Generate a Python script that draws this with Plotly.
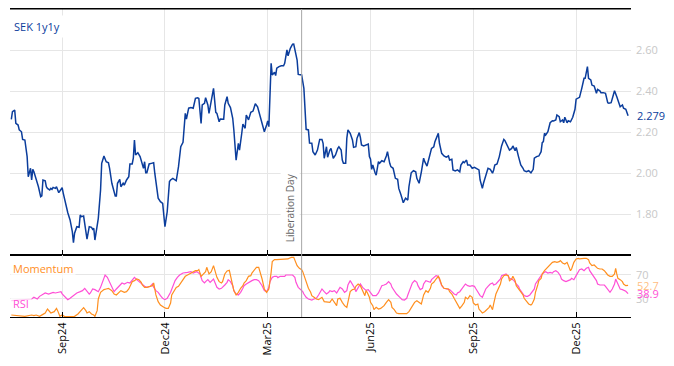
import pandas as pd
import plotly.graph_objects as go

# ---------------- data ----------------
start_date = "2024-07-19"

sek_days = [
    0, 1, 3, 4, 6, 7, 9, 10, 12, 13,
    14, 15, 17, 18, 19, 20, 22, 24, 26, 27,
    28, 30, 31, 32, 34, 35, 36, 37, 39, 40,
    42, 44, 45, 46, 48, 50, 52, 54, 55, 56,
    58, 60, 61, 62, 64, 66, 67, 69, 71, 72,
    73, 74, 76, 77, 79, 80, 82, 84, 86, 87,
    89, 90, 92, 93, 94, 96, 97, 99, 100, 102,
    104, 105, 107, 108, 109, 110, 112, 114, 116, 117,
    118, 119, 120, 122, 124, 126, 127, 129, 130, 132,
    134, 136, 138, 140, 141, 143, 145, 146, 148, 149,
    150, 152, 154, 155, 157, 159, 161, 163, 165, 166,
    168, 169, 171, 172, 174, 175, 177, 179, 181, 182,
    184, 185, 188, 189, 191, 192, 194, 196, 197, 199,
    201, 202, 204, 205, 207, 208, 210, 212, 214, 216,
    218, 220, 222, 224, 226, 227, 228, 230, 231, 233,
    234, 235, 237, 239, 241, 242, 244, 245, 247, 249,
    250, 251, 253, 254, 257, 259, 260, 261, 263, 264,
    266, 267, 269, 271, 273, 275, 276, 277, 279, 280,
    282, 283, 285, 287, 289, 290, 292, 293, 294, 296,
    297, 298, 300, 302, 303, 305, 306, 308, 309, 310,
    312, 314, 316, 317, 318, 319, 320, 322, 323, 325,
    326, 328, 330, 332, 333, 335, 336, 338, 340, 342,
    343, 345, 347, 349, 351, 352, 354, 356, 358, 359,
    361, 363, 365, 366, 368, 370, 372, 374, 375, 377,
    378, 379, 381, 383, 385, 387, 388, 390, 391, 393,
    395, 397, 398, 400, 401, 403, 404, 406, 408, 410,
    412, 414, 415, 417, 418, 420, 422, 424, 426, 427,
    428, 430, 432, 434, 436, 437, 439, 441, 443, 444,
    446, 447, 449, 451, 453, 454, 456, 458, 460, 462,
    463, 465, 467, 469, 470, 471, 472, 473, 475, 477,
    479, 480, 482, 483, 485, 486, 488, 489, 490, 492,
    493, 495, 497, 499, 500, 502, 503, 505, 507, 508,
    510, 511, 513, 514, 516, 518, 519, 521, 522, 524,
    526, 528, 529, 531, 532, 534, 536, 538, 539, 541,
    542, 544, 545, 546,
]
sek_values = [
    2.262, 2.299, 2.307, 2.242, 2.234, 2.210, 2.201, 2.164, 2.161, 2.128,
    2.080, 1.982, 2.023, 1.966, 2.018, 2.006, 1.974, 1.933, 1.884, 1.888,
    1.966, 1.962, 1.933, 1.925, 1.917, 1.925, 1.920, 1.930, 1.925, 1.933,
    1.904, 1.920, 1.928, 1.901, 1.844, 1.806, 1.771, 1.714, 1.660, 1.706,
    1.738, 1.735, 1.795, 1.787, 1.790, 1.722, 1.677, 1.738, 1.735, 1.725,
    1.730, 1.673, 1.738, 1.779, 1.917, 2.047, 2.083, 2.055, 2.050, 2.023,
    1.950, 1.933, 1.888, 1.888, 1.950, 1.969, 1.933, 1.950, 1.941, 1.966,
    1.982, 2.044, 2.044, 2.072, 2.161, 2.088, 2.099, 2.080, 2.039, 2.023,
    2.055, 2.001, 2.001, 2.044, 2.047, 2.050, 1.999, 1.917, 1.877, 1.860,
    1.852, 1.738, 1.811, 1.958, 1.966, 1.974, 1.966, 1.962, 2.031, 2.080,
    2.128, 2.150, 2.291, 2.263, 2.316, 2.319, 2.316, 2.364, 2.367, 2.364,
    2.242, 2.332, 2.340, 2.367, 2.332, 2.291, 2.364, 2.413, 2.296, 2.291,
    2.250, 2.263, 2.262, 2.332, 2.372, 2.340, 2.319, 2.267, 2.210, 2.063,
    2.145, 2.112, 2.194, 2.238, 2.218, 2.283, 2.259, 2.296, 2.302, 2.338,
    2.323, 2.283, 2.247, 2.201, 2.234, 2.254, 2.226, 2.535, 2.478, 2.491,
    2.475, 2.511, 2.519, 2.523, 2.523, 2.535, 2.600, 2.572, 2.608, 2.628,
    2.629, 2.600, 2.551, 2.481, 2.478, 2.413, 2.299, 2.213, 2.210, 2.146,
    2.145, 2.104, 2.088, 2.112, 2.164, 2.164, 2.145, 2.072, 2.128, 2.077,
    2.112, 2.120, 2.072, 2.088, 2.120, 2.128, 2.112, 2.063, 2.047, 2.047,
    2.169, 2.210, 2.194, 2.161, 2.125, 2.128, 2.169, 2.197, 2.174, 2.137,
    2.132, 2.137, 2.141, 2.080, 2.067, 2.018, 2.039, 2.001, 1.990, 2.055,
    2.047, 2.060, 2.055, 2.083, 2.104, 2.047, 2.031, 2.023, 1.974, 1.969,
    1.925, 1.893, 1.855, 1.877, 1.868, 1.933, 2.001, 2.011, 2.006, 1.974,
    1.950, 2.006, 2.072, 2.055, 2.034, 2.077, 2.120, 2.128, 2.153, 2.180,
    2.194, 2.145, 2.096, 2.083, 2.077, 2.083, 2.063, 2.067, 2.015, 2.010,
    2.015, 2.006, 2.039, 2.055, 2.050, 2.063, 2.039, 2.039, 2.023, 2.028,
    2.023, 2.015, 1.966, 1.925, 1.950, 1.990, 2.023, 2.018, 1.999, 2.015,
    2.039, 2.044, 2.080, 2.132, 2.164, 2.158, 2.137, 2.112, 2.120, 2.132,
    2.109, 2.125, 2.080, 2.039, 2.023, 2.011, 2.006, 2.011, 2.001, 2.018,
    2.072, 2.080, 2.083, 2.104, 2.148, 2.153, 2.194, 2.185, 2.201, 2.245,
    2.255, 2.254, 2.259, 2.283, 2.275, 2.250, 2.259, 2.245, 2.272, 2.245,
    2.255, 2.250, 2.272, 2.311, 2.360, 2.364, 2.369, 2.413, 2.462, 2.462,
    2.519, 2.462, 2.454, 2.429, 2.424, 2.389, 2.408, 2.401, 2.392, 2.392,
    2.389, 2.343, 2.340, 2.343, 2.360, 2.401, 2.372, 2.337, 2.323, 2.332,
    2.316, 2.311, 2.294, 2.279,
]

rsi_days = [
    0, 9, 18, 20, 23, 25, 28, 30, 33, 35,
    37, 39, 41, 44, 45, 47, 50, 52, 55, 58,
    61, 63, 65, 67, 69, 70, 72, 74, 77, 79,
    82, 83, 85, 87, 89, 91, 93, 96, 98, 100,
    103, 105, 107, 109, 111, 113, 116, 118, 120, 123,
    125, 126, 128, 130, 132, 134, 136, 138, 141, 143,
    145, 147, 149, 152, 154, 156, 159, 161, 164, 165,
    167, 169, 171, 172, 174, 176, 178, 179,
    182, 184, 186, 187, 189, 191, 192, 194, 196, 197,
    199, 201, 203, 205, 206, 208, 210, 212, 213, 215,
    217, 219, 220, 222, 224, 226, 228, 229, 231, 233,
    235, 236, 238, 240, 242, 243, 245, 247, 249, 251,
    252, 254, 256, 258, 259, 261, 263, 265, 266, 268,
    270, 272, 274, 275, 277, 279, 281, 282, 284, 286,
    288, 289, 291, 293, 295, 297, 298, 300, 302, 304,
    305, 307, 309, 311, 313, 314, 316, 318, 320, 321,
    323, 325, 327, 328, 330, 332, 334, 336, 337, 339,
    341, 344, 346, 348, 350, 351, 353, 355, 357, 359,
    360, 362,
    364, 365, 367, 369, 371, 372, 374, 376, 378, 379,
    381, 383, 385, 387, 388, 390, 392, 394, 395, 397,
    399, 401, 402, 404, 406, 408, 410, 411, 413, 415,
    417, 418, 420, 422, 424, 426, 427, 429, 431, 433,
    434, 436, 438, 440, 441, 443, 445, 447, 449, 450,
    452, 454, 456, 457, 459, 461, 463, 464, 466, 468,
    470, 472, 473, 475, 477, 479, 480, 482, 484, 486,
    487, 489, 491, 493, 495, 496, 498, 500, 502, 503,
    505, 507, 509, 511, 512, 514, 516, 518, 519, 521,
    523, 525, 526, 528, 530, 532, 534, 535, 537, 539,
    541, 542, 544, 546,
]
rsi_values = [
    27.2, 28.9, 30.0, 32.8, 30.0, 34.4, 38.3, 40.0, 38.3, 40.0,
    41.1, 40.0, 41.1, 42.2, 38.3, 34.4, 28.9, 31.1, 35.6, 40.0,
    42.2, 43.9, 47.8, 43.9, 38.3, 40.0, 46.7, 45.6, 42.2, 49.4,
    64.4, 70.0, 66.1, 57.8, 49.4, 42.2, 46.7, 53.3, 56.7, 55.0,
    57.8, 56.7, 60.6, 66.1, 62.2, 58.9, 55.0, 51.1, 49.4, 51.1,
    55.0, 49.4, 43.9, 41.1, 35.6, 31.1, 28.9, 31.1, 41.1, 52.2,
    60.6, 66.1, 70.0, 73.3, 74.4, 74.4, 75.6, 73.3, 75.6, 74.4,
    71.7, 60.6, 56.7, 58.9, 62.2, 57.8, 60.6, 63.3,
    49.4, 46.7, 47.8, 49.4, 53.3, 57.8, 62.2, 58.9, 52.2, 43.9,
    38.3, 36.7, 41.1, 47.8, 52.2, 55.0, 57.8, 60.0, 60.6, 62.2,
    62.2, 60.6, 57.8, 52.2, 43.9, 42.2, 49.4, 58.9, 66.1, 67.8,
    67.8, 65.6, 67.8, 67.8, 67.8, 70.0, 70.0, 70.6, 70.0, 66.1,
    57.8, 49.4, 45.6, 42.2, 38.3, 32.8, 30.0, 28.9, 28.3, 30.0,
    31.1, 36.7, 42.2, 46.7, 42.2, 38.3, 41.1, 43.9, 42.2, 43.9,
    40.0, 43.9, 49.4, 46.7, 41.1, 43.9, 53.3, 60.6, 55.0, 47.8,
    42.2, 49.4, 55.0, 49.4, 46.7, 44.4, 45.6, 40.0, 35.6, 35.6,
    35.6, 40.0, 46.7, 52.2, 53.3, 55.0, 58.9, 55.0, 49.4, 43.9,
    38.3, 32.8, 28.9, 28.3, 31.1, 36.7, 46.7, 56.7, 60.6, 57.8,
    52.2, 45.6,
    47.8, 55.0, 60.6, 58.9, 57.8, 62.2, 66.1, 68.9, 67.8, 62.2,
    52.2, 47.8, 46.7, 46.7, 45.6, 42.2, 38.3, 36.7, 40.0, 42.2,
    46.7, 52.2, 55.0, 52.2, 51.1, 52.2, 51.1, 47.8, 42.2, 35.6,
    32.8, 38.3, 46.7, 51.1, 55.0, 56.7, 53.3, 55.0, 58.9, 63.3,
    68.9, 70.0, 71.7, 67.8, 64.4, 63.3, 60.6, 55.0, 51.1, 46.7,
    41.1, 35.6, 34.4, 34.4, 36.7, 42.2, 46.7, 55.0, 60.6, 67.8,
    71.7, 74.4, 75.6, 73.3, 74.4, 73.3, 75.6, 77.2, 74.4, 68.9,
    63.3, 60.6, 58.9, 60.6, 62.2, 64.4, 62.2, 68.9, 75.6, 78.9,
    80.0, 77.2, 81.1, 82.8, 77.2, 71.7, 66.1, 60.6, 55.0, 53.3,
    53.3, 53.3, 51.1, 46.7, 41.1, 46.7, 55.0, 63.3, 55.0, 46.7,
    45.6, 45.0, 42.8, 38.9,
]

momentum_days = [
    0, 6, 12, 18, 20, 22, 25, 28, 30, 32,
    34, 35, 38, 40, 41, 43, 45, 47, 50, 53,
    56, 59, 62, 64, 66, 67, 69, 71, 73, 74,
    76, 77, 79, 82, 84, 86, 89, 91, 93, 95,
    97, 100, 102, 104, 106, 107, 109, 111, 113, 115,
    116, 118, 120, 123, 125, 126, 127, 128, 130, 132,
    135, 137, 139, 141, 142, 145, 146, 148, 150, 152,
    154, 156, 159, 161, 163, 165, 166, 168, 170, 172,
    173, 175, 177, 178, 179,
    182, 184, 186, 187, 189, 191, 193, 194, 196, 197,
    199, 201, 203, 205, 206, 208, 210, 212, 213, 215,
    217, 219, 220, 222, 224, 226, 228, 229, 230, 231,
    233, 235, 238, 240, 242, 245, 246, 248, 250, 251,
    252, 253, 255, 257, 258, 259, 261, 262, 263, 265,
    266, 268, 270, 272, 274, 275, 277, 279, 281, 282,
    284, 286, 288, 289, 291, 293, 295, 297, 298, 300,
    302, 304, 305, 307, 309, 311, 313, 314, 315, 317,
    318, 320, 321, 323, 325, 327, 328, 330, 332, 334,
    336, 337, 339, 341, 343, 344, 346, 349, 350, 352,
    354, 356, 357, 359, 361, 363,
    365, 367, 369, 371, 372, 374, 376, 378, 379, 381,
    383, 385, 387, 388, 390, 392, 394, 395, 397, 399,
    401, 402, 404, 406, 408, 409, 411, 413, 414, 416,
    417, 419, 421, 423, 424, 425, 426, 427, 429, 431,
    433, 434, 436, 438, 440, 441, 443, 444, 446, 447,
    449, 451, 453, 454, 456, 458, 460, 461, 463, 464,
    466, 467, 469, 470, 472, 474, 476, 477, 479, 481,
    483, 485, 486, 488, 490, 492, 493, 495, 496, 498,
    500, 502, 503, 505, 507, 509, 511, 512, 514, 516,
    518, 519, 521, 523, 525, 526, 528, 530, 532, 534,
    535, 536, 537, 539, 541, 542, 544, 546,
]
momentum_values = [
    3.3, 2.2, 1.1, 3.3, 2.2, 3.3, 1.1, 4.4, 6.7, 13.3,
    7.8, 6.7, 8.9, 14.4, 10.6, 1.1, 3.3, 1.1, 0.6, 0.6,
    1.1, 5.0, 10.6, 15.6, 10.6, 6.7, 8.9, 5.0, 3.3, 1.1,
    10.6, 30.0, 41.1, 45.6, 46.7, 47.8, 43.9, 38.3, 36.7, 41.1,
    43.9, 41.1, 42.2, 46.7, 55.0, 58.9, 60.6, 63.3, 62.2, 57.8,
    53.3, 49.4, 49.4, 51.1, 52.2, 56.7, 46.7, 36.7, 25.6, 20.0,
    16.1, 14.4, 14.4, 23.3, 36.7, 46.7, 49.4, 51.1, 56.7, 63.3,
    67.8, 70.0, 73.3, 75.6, 77.2, 77.2, 78.9, 67.8, 71.7, 75.6,
    82.8, 71.7, 75.6, 82.8, 85.6,
    66.1, 58.9, 56.7, 58.9, 71.7, 76.7, 77.8, 70.0, 55.0, 43.9,
    36.7, 41.1, 47.8, 52.2, 56.7, 60.6, 67.8, 68.9, 73.3, 78.9,
    82.8, 82.8, 77.2, 63.3, 46.7, 41.1, 46.7, 57.8, 74.4, 92.2,
    95.6, 95.6, 95.6, 96.7, 96.7, 96.7, 97.8, 99.4, 99.4, 93.9,
    90.0, 85.6, 81.1, 78.9, 75.6, 70.0, 60.6, 55.0, 47.8, 41.1,
    35.6, 32.8, 30.0, 28.9, 31.1, 32.8, 25.6, 25.6, 24.4, 24.4,
    30.0, 24.4, 18.9, 30.0, 31.1, 24.4, 18.9, 16.1, 27.2, 42.2,
    45.6, 46.7, 51.1, 55.0, 52.2, 42.2, 35.6, 43.9, 41.1, 32.8,
    24.4, 18.9, 12.2, 16.1, 13.3, 14.4, 16.1, 18.9, 24.4, 28.9,
    24.4, 16.1, 12.2, 6.7, 5.6, 5.6, 5.6, 5.6, 5.6, 8.9,
    16.1, 21.7, 24.4, 27.2, 24.4, 21.7,
    36.7, 43.9, 41.1, 47.8, 55.0, 57.8, 63.3, 67.8, 64.4, 53.3,
    47.8, 46.7, 46.7, 42.2, 38.3, 31.1, 24.4, 20.0, 14.4, 18.9,
    24.4, 32.8, 30.0, 35.6, 32.8, 23.3, 20.0, 21.7, 13.3, 8.9,
    6.7, 8.9, 12.2, 16.1, 20.0, 14.4, 12.2, 21.7, 38.3, 46.7,
    55.0, 63.3, 68.9, 70.0, 68.9, 60.6, 63.3, 67.8, 60.6, 52.2,
    46.7, 42.2, 36.7, 31.1, 25.6, 21.7, 20.0, 21.7, 30.0, 41.1,
    53.3, 60.6, 64.4, 71.7, 77.2, 81.1, 85.6, 88.3, 91.1, 92.2,
    91.1, 92.2, 93.9, 90.0, 88.3, 91.1, 85.6, 77.2, 80.0, 91.1,
    96.7, 97.8, 96.7, 97.8, 97.8, 97.8, 95.6, 90.0, 85.6, 86.7,
    82.8, 81.1, 80.0, 80.0, 77.2, 74.4, 70.0, 67.8, 67.8, 71.7,
    81.1, 71.7, 64.4, 62.2, 58.9, 55.0, 52.2, 52.7,
]

tick_dates = ["2024-09-02", "2024-12-02", "2025-03-03", "2025-06-02", "2025-09-01", "2025-12-01"]
tick_labels = ["Sep24", "Dec24", "Mar25", "Jun25", "Sep25", "Dec25"]
main_ticks = [1.8, 2.0, 2.2, 2.4, 2.6]
lower_ticks = [30, 70]
event_date = "2025-04-02"
event_label = "Liberation Day"
series_name = "SEK 1y1y"

assert len(sek_days) == len(sek_values)
assert len(rsi_days) == len(rsi_values)
assert len(momentum_days) == len(momentum_values)

# ---------------- build ----------------
t0 = pd.Timestamp(start_date)
sek_dates = t0 + pd.to_timedelta(sek_days, unit="D")
rsi_dates = t0 + pd.to_timedelta(rsi_days, unit="D")
mom_dates = t0 + pd.to_timedelta(momentum_days, unit="D")

BLUE = "#0b3d9c"
ORANGE = "#ff8f1f"
PINK = "#ff4fd6"
GRID = "#e6e6e6"
TICKGREY = "#c8c8c8"
FONT = "Open Sans"

fig = go.Figure()
fig.add_trace(go.Scatter(x=sek_dates, y=sek_values, mode="lines",
                         line=dict(color=BLUE, width=1.5), xaxis="x", yaxis="y",
                         hoverinfo="skip"))
fig.add_trace(go.Scatter(x=rsi_dates, y=rsi_values, mode="lines",
                         line=dict(color=PINK, width=1.2), xaxis="x2", yaxis="y2",
                         hoverinfo="skip"))
fig.add_trace(go.Scatter(x=mom_dates, y=momentum_values, mode="lines",
                         line=dict(color=ORANGE, width=1.2), xaxis="x2", yaxis="y2",
                         hoverinfo="skip"))

x_range = ["2024-07-17 20:00", "2026-01-18 14:00"]
split = 62 / 308

common_x = dict(range=x_range, type="date", tickvals=tick_dates, ticktext=tick_labels,
                ticks="inside", ticklen=5, tickcolor="#000", tickwidth=1,
                showline=True, linecolor="#000", linewidth=1, mirror=True,
                showgrid=True, gridcolor=GRID, gridwidth=1, zeroline=False)

fig.update_layout(
    width=674, height=366,
    margin=dict(l=10, r=43, t=9, b=49),
    paper_bgcolor="white", plot_bgcolor="white",
    showlegend=False,
    font=dict(family=FONT, size=11, color="#000"),
    xaxis=dict(**common_x, anchor="y", showticklabels=False),
    xaxis2=dict(**common_x, anchor="y2", matches="x", showticklabels=True,
                tickangle=-90, tickfont=dict(family=FONT, size=11, color="#000")),
    yaxis=dict(domain=[split, 1], range=[1.6, 2.8], side="right", tickvals=main_ticks,
               tickformat=".2f", tickfont=dict(family=FONT, size=11, color=TICKGREY),
               showgrid=True, gridcolor=GRID, zeroline=False, showline=False, ticks="",
               ticklabelstandoff=4, anchor="x"),
    yaxis2=dict(domain=[0, split], range=[0, 103.3], side="right", tickvals=lower_ticks,
                tickfont=dict(family=FONT, size=11, color=TICKGREY),
                showgrid=True, gridcolor=GRID, zeroline=False, showline=False, ticks="",
                ticklabelstandoff=4, anchor="x2"),
)

# top border of the main panel
fig.add_shape(type="line", xref="paper", yref="paper", x0=0, x1=1, y0=1, y1=1,
              line=dict(color="#000", width=1.2), layer="above")

fig.add_shape(type="line", xref="x", yref="paper", x0=event_date, x1=event_date,
              y0=0, y1=1, line=dict(color="#a6a6a6", width=1), layer="above")

fig.add_annotation(text=event_label, x=event_date, xref="x", y=1.6, yref="y",
                   xanchor="right", yanchor="bottom", textangle=-90, showarrow=False,
                   xshift=-2, yshift=10, bgcolor="white", borderpad=2,
                   font=dict(family=FONT, size=10, color="#666666"))

fig.add_annotation(text=series_name, xref="paper", yref="paper", x=0, y=1,
                   xanchor="left", yanchor="top", showarrow=False, yshift=-6,
                   bgcolor="white", borderpad=3, font=dict(family=FONT, size=11, color=BLUE))

fig.add_annotation(text="Momentum", xref="paper", yref="y2 domain", x=0, y=1,
                   xanchor="left", yanchor="top", showarrow=False, yshift=-3,
                   bgcolor="rgba(255,255,255,0.7)", borderpad=2,
                   font=dict(family=FONT, size=11, color=ORANGE))
fig.add_annotation(text="RSI", xref="paper", yref="y2 domain", x=0, y=0,
                   xanchor="left", yanchor="bottom", showarrow=False, yshift=3,
                   bgcolor="rgba(255,255,255,0.7)", borderpad=2,
                   font=dict(family=FONT, size=11, color=PINK))

# last-value labels
fig.add_annotation(text=f"{sek_values[-1]:.3f}", xref="paper", yref="y", x=1, y=sek_values[-1],
                   xanchor="left", yanchor="middle", showarrow=False, xshift=4,
                   bgcolor="white", borderpad=1, font=dict(family=FONT, size=11, color=BLUE))
fig.add_annotation(text=f"{momentum_values[-1]:.1f}", xref="paper", yref="y2", x=1,
                   y=momentum_values[-1], xanchor="left", yanchor="middle", showarrow=False,
                   xshift=4, font=dict(family=FONT, size=11, color="rgba(255,143,31,0.6)"))
fig.add_annotation(text=f"{rsi_values[-1]:.1f}", xref="paper", yref="y2", x=1,
                   y=rsi_values[-1], xanchor="left", yanchor="middle", showarrow=False,
                   xshift=4, font=dict(family=FONT, size=11, color=PINK))

fig.write_html("out.html", config={"displayModeBar": False},
               post_script="document.body.style.margin='0';")
